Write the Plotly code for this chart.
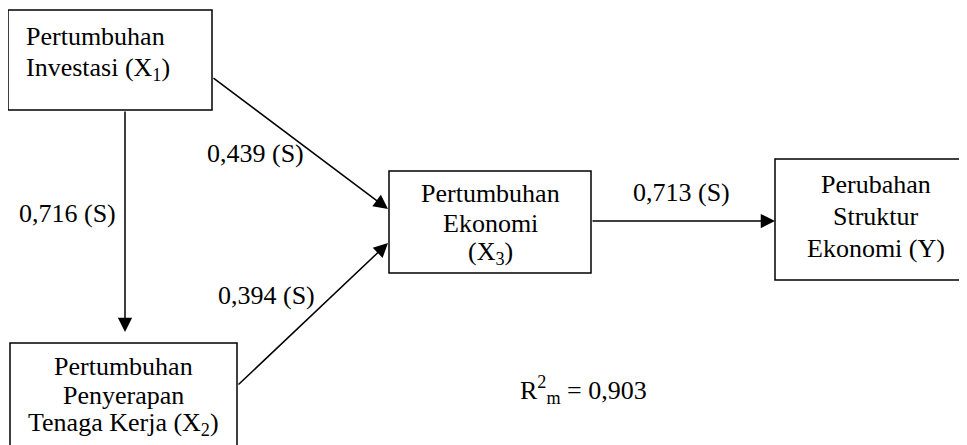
import plotly.graph_objects as go

# ---- data ----
node_x1_lines = ["Pertumbuhan", "Investasi (X<sub>1</sub>)"]
node_x2_lines = ["Pertumbuhan", "Penyerapan", "Tenaga Kerja (X<sub>2</sub>)"]
node_x3_lines = ["Pertumbuhan", "Ekonomi", "(X<sub>3</sub>)"]
node_y_lines = ["Perubahan", "Struktur", "Ekonomi (Y)"]
coef_labels = ["0,439 (S)", "0,716 (S)", "0,394 (S)", "0,713 (S)"]
r2_value = "0,903"

# ---- layout geometry (pixels) ----
W, H = 967, 445
OFF = 8  # page body margin
boxes = [(8, 10, 212, 110), (10, 343, 237, 460), (389, 171, 591, 273), (775, 159, 975, 280)]
FONT = dict(family="Liberation Serif", size=26, color="black")

fig = go.Figure()
fig.add_trace(go.Scatter(x=[OFF, W], y=[OFF, H], mode="markers", marker=dict(opacity=0), hoverinfo="skip", showlegend=False))

shapes = []
for (x0, y0, x1, y1) in boxes:
    shapes.append(dict(type="rect", xref="x", yref="y", x0=x0, y0=y0, x1=x1, y1=y1,
                       line=dict(color="black", width=1.5), fillcolor="rgba(0,0,0,0)"))

ann = []
def add_text(t, x, y, anchor="center"):
    ann.append(dict(x=x, y=y, xref="x", yref="y", text=t, showarrow=False, font=FONT,
                    xanchor=anchor, yanchor="middle"))

# node texts
for t, y in zip(node_x1_lines, [36, 69]):
    add_text(t, 24, y, "left")
for t, y in zip(node_x2_lines, [366, 395, 424]):
    add_text(t, 123, y)
for t, y in zip(node_x3_lines, [193, 223, 253]):
    add_text(t, 490, y)
for t, y in zip(node_y_lines, [184, 216, 248]):
    add_text(t, 876, y)

# coefficients
for t, (x, y) in zip(coef_labels, [(255, 153), (67, 213), (266, 295), (681, 192)]):
    add_text(t, x, y)
add_text("R<sup>2</sup><sub>m</sub> = " + r2_value, 583, 390)

# arrows
arrows = [((212, 77), (388, 209)), ((125, 110), (125, 332)), ((237, 386), (388, 243)), ((591, 221), (775, 221))]
for (tx, ty), (hx, hy) in arrows:
    ann.append(dict(x=hx, y=hy, ax=tx, ay=ty, xref="x", yref="y", axref="x", ayref="y",
                    text="", showarrow=True, arrowhead=2, arrowsize=1.9, arrowwidth=1.5,
                    arrowcolor="black", standoff=0, startstandoff=0))

fig.update_layout(
    width=W - OFF, height=H - OFF, margin=dict(l=0, r=0, t=0, b=0),
    paper_bgcolor="white", plot_bgcolor="white",
    xaxis=dict(range=[OFF, W], visible=False, fixedrange=True),
    yaxis=dict(range=[H, OFF], visible=False, fixedrange=True),
    shapes=shapes, annotations=ann, showlegend=False,
)
fig.write_html("out.html", config={"displayModeBar": False})
